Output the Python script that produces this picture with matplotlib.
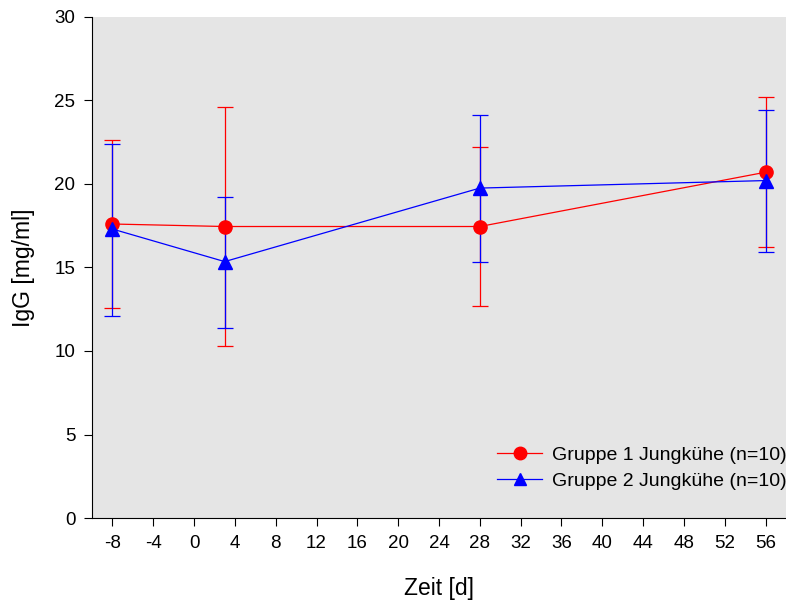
import matplotlib.pyplot as plt
from matplotlib.lines import Line2D
import numpy as np

plt.rcParams['font.family'] = ['Liberation Sans', 'DejaVu Sans']
plt.rcParams['axes.unicode_minus'] = False

days = [-8, 3, 28, 56]

# Gruppe 1 (rot)
g1_mean = [17.6, 17.45, 17.45, 20.7]
g1_upper = [22.65, 24.6, 22.2, 25.2]
g1_lower = [12.6, 10.3, 12.7, 16.2]

# Gruppe 2 (blau)
g2_mean = [17.3, 15.35, 19.75, 20.2]
g2_upper = [22.4, 19.2, 24.1, 24.45]
g2_lower = [12.1, 11.4, 15.35, 15.9]

labels = ['Gruppe 1 Jungkühe (n=10)', 'Gruppe 2 Jungkühe (n=10)']

g1_err = [np.array(g1_mean) - np.array(g1_lower), np.array(g1_upper) - np.array(g1_mean)]
g2_err = [np.array(g2_mean) - np.array(g2_lower), np.array(g2_upper) - np.array(g2_mean)]

fig = plt.figure(figsize=(7.86, 6.01), dpi=100)
ax = fig.add_axes([0.117, 0.138, 0.883, 0.834])
ax.set_facecolor('#e5e5e5')

ax.errorbar(days, g1_mean, yerr=g1_err, color='red', marker='o', markersize=9.5,
            linewidth=0.9, elinewidth=0.9, capsize=6, capthick=0.9)
ax.errorbar(days, g2_mean, yerr=g2_err, color='blue', marker='^', markersize=9.5,
            linewidth=0.9, elinewidth=0.9, capsize=6, capthick=0.9)

ax.set_xlim(-10, 58)
ax.set_ylim(0, 30)
ax.set_xticks(np.arange(-8, 57, 4))
ax.set_yticks(np.arange(0, 31, 5))
ax.spines['top'].set_visible(False)
ax.spines['right'].set_visible(False)
ax.tick_params(direction='out', length=6, labelsize=13.5, pad=6)

ax.set_xlabel('Zeit [d]', fontsize=16.5, labelpad=18)
ax.set_ylabel('IgG [mg/ml]', fontsize=16.5, labelpad=14)

handles = [Line2D([], [], color='red', marker='o', markersize=9, linewidth=0.9),
           Line2D([], [], color='blue', marker='^', markersize=9, linewidth=0.9)]
ax.legend(handles, labels, loc='lower right', frameon=False, fontsize=14,
          handlelength=2.3, handletextpad=0.5, borderaxespad=0,
          labelspacing=0.45, bbox_to_anchor=(1.012, 0.04))

fig.savefig('out.png', dpi=100)
